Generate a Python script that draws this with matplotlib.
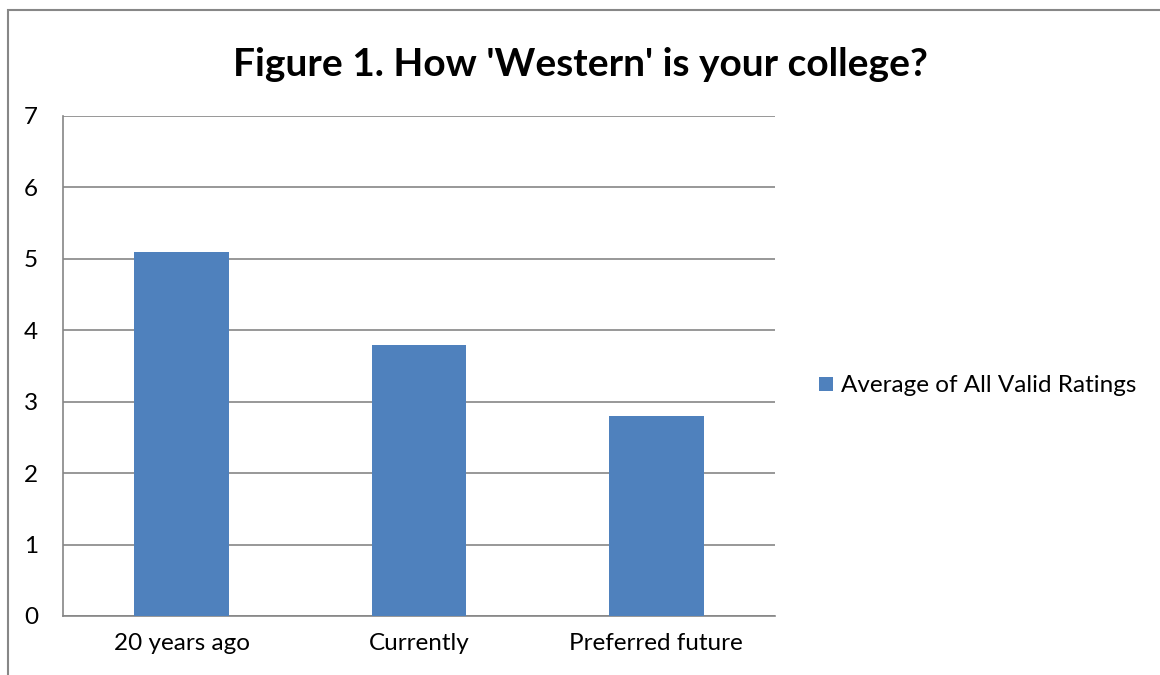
import matplotlib.pyplot as plt
from matplotlib.patches import Rectangle

categories = ['20 years ago', 'Currently', 'Preferred future']
ratings = [5.1, 3.8, 2.8]
series_name = 'Average of All Valid Ratings'

plt.rcParams['font.family'] = ['Lato', 'DejaVu Sans']

fig = plt.figure(figsize=(11.6, 6.75), dpi=100)
ax = fig.add_axes([63 / 1160, 59 / 675, 712 / 1160, 500 / 675])

x = range(len(categories))
ax.bar(x, ratings, width=0.4, color='#4F81BD', label=series_name, zorder=3)

ax.set_xlim(-0.5, len(categories) - 0.5)
ax.set_ylim(0, 7)
ax.set_yticks(range(0, 8))
ax.set_xticks(list(x))
ax.set_xticklabels(categories)
ax.grid(axis='y', color='#868686', linewidth=1.2, zorder=0)
for s in ['top', 'right']:
    ax.spines[s].set_visible(False)
for s in ['left', 'bottom']:
    ax.spines[s].set_color('#868686')
    ax.spines[s].set_linewidth(1.2)
ax.tick_params(axis='y', length=0, pad=18, labelsize=17.5)
ax.tick_params(axis='x', length=0, pad=12, labelsize=17.5)

fig.text(0.5, 1 - 64 / 675, "Figure 1. How 'Western' is your college?",
         ha='center', va='center', fontsize=28, fontweight='bold')

ax.legend(loc='center left', bbox_to_anchor=(1.045, 0.46), frameon=False,
          fontsize=17.5, handlelength=0.55, handleheight=0.55, handletextpad=0.35,
          borderpad=0)

fig.patches.append(Rectangle((8 / 1160, -0.1), 1.2, 1 - 10 / 675 + 0.1,
                             transform=fig.transFigure, fill=False,
                             edgecolor='#878787', linewidth=1.5))

fig.savefig('out.png', dpi=100)
